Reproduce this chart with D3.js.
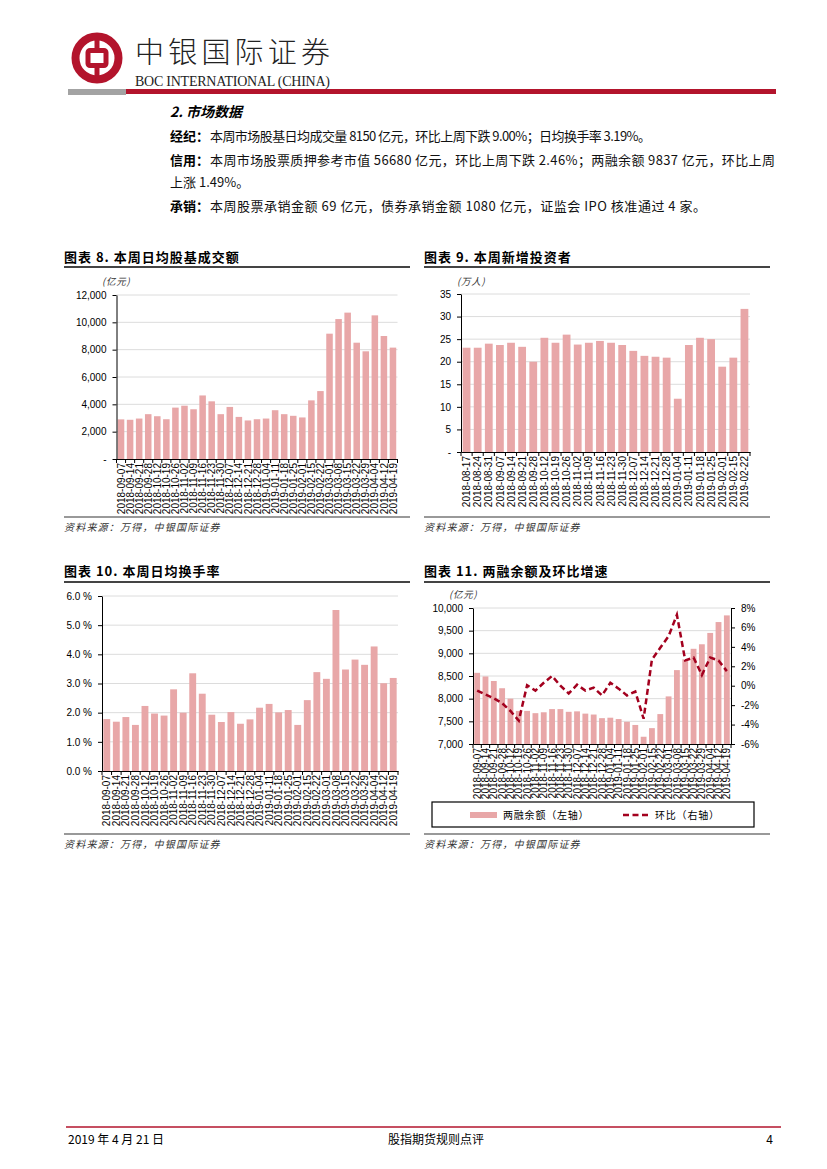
<!DOCTYPE html>
<html>
<head>
<meta charset="utf-8">
<script src="https://cdn.jsdelivr.net/npm/d3@7"></script>
<style>
  body { margin: 0; background: #fff; }
  svg { display: block; }
</style>
</head>
<body>
<script>
var cjk = "'Noto Sans CJK SC', 'Noto Sans', sans-serif";
var latin = "'Liberation Sans', Arial, sans-serif";
var barColor = "#e8a7a8";
var red = "#b3142c";

// weekly dates used by charts 8, 10, 11
var weeksA = ["2018-09-07", "2018-09-14", "2018-09-21", "2018-09-28", "2018-10-12", "2018-10-19",
    "2018-10-26", "2018-11-02", "2018-11-09", "2018-11-16", "2018-11-23", "2018-11-30",
    "2018-12-07", "2018-12-14", "2018-12-21", "2018-12-28", "2019-01-04", "2019-01-11",
    "2019-01-18", "2019-01-25", "2019-02-01", "2019-02-15", "2019-02-22", "2019-03-01",
    "2019-03-08", "2019-03-15", "2019-03-22", "2019-03-29", "2019-04-04", "2019-04-12", "2019-04-19"];

// chart 9 dates
var weeksB = ["2018-08-17", "2018-08-24", "2018-08-31", "2018-09-07", "2018-09-14", "2018-09-21",
    "2018-09-28", "2018-10-12", "2018-10-19", "2018-10-26", "2018-11-02", "2018-11-09",
    "2018-11-16", "2018-11-23", "2018-11-30", "2018-12-07", "2018-12-14", "2018-12-21",
    "2018-12-28", "2019-01-04", "2019-01-11", "2019-01-18", "2019-01-25", "2019-02-01",
    "2019-02-15", "2019-02-22"];

// 图表8 日均股基成交额 (亿元)
var turnoverAmt = [2900, 2870, 2960, 3280, 3130, 2910, 3760, 3900, 3640, 4650, 4220, 3280,
    3810, 3080, 2820, 2910, 2960, 3570, 3280, 3160, 3040, 4290, 4970, 9170, 10240, 10710,
    8510, 7880, 10510, 9000, 8150];

// 图表9 新增投资者 (万人)
var newInvestors = [23.1, 23.1, 24.0, 23.7, 24.2, 23.3, 20.0, 25.3, 24.2, 26.0, 23.8, 24.2,
    24.6, 24.2, 23.7, 22.4, 21.3, 21.1, 20.9, 11.8, 23.7, 25.3, 25.0, 18.9, 20.9, 31.7];

// 图表10 日均换手率 (%)
var turnoverRate = [1.78, 1.69, 1.85, 1.58, 2.23, 1.97, 1.90, 2.80, 2.00, 3.35, 2.65, 1.93,
    1.68, 2.02, 1.62, 1.77, 2.17, 2.30, 2.01, 2.09, 1.58, 2.43, 3.39, 3.16, 5.52, 3.48,
    3.82, 3.64, 4.27, 3.01, 3.19];

// 图表11 两融余额 (亿元) 和环比 (%)
var marginBal = [8570, 8490, 8390, 8230, 8000, 7730, 7730, 7680, 7700, 7770, 7770, 7710,
    7720, 7670, 7650, 7570, 7580, 7550, 7490, 7420, 7160, 7350, 7660, 8050, 8630, 8870,
    9100, 9200, 9450, 9690, 9837];
var marginChg = [-0.5, -0.9, -1.3, -1.8, -2.6, -3.6, 0.05, -0.5, 0.3, 1.0, 0.0, -0.8, 0.1,
    -0.5, -0.2, -1.0, 0.3, -0.3, -1.0, -0.6, -3.4, 2.7, 3.9, 5.1, 7.3, 2.6, 2.9, 1.1, 2.9,
    2.6, 1.5];

var svg = d3.select("body").append("svg")
    .attr("width", 827)
    .attr("height", 1169);

// ---- header ----
var logo = svg.append("g").attr("transform", "translate(97,58)");
logo.append("circle").attr("r", 21.5).attr("fill", "none").attr("stroke", red).attr("stroke-width", 8);
logo.append("line").attr("x1", 0).attr("x2", 0).attr("y1", -25).attr("y2", 25)
    .attr("stroke", red).attr("stroke-width", 5);
logo.append("rect").attr("x", -9).attr("y", -7.5).attr("width", 18).attr("height", 15).attr("rx", 2)
    .attr("fill", "#fff").attr("stroke", red).attr("stroke-width", 5);

svg.append("text").attr("x", 135).attr("y", 63)
    .attr("font-family", cjk).attr("font-weight", 300).attr("font-size", 29)
    .attr("textLength", 195).attr("fill", "#222")
    .text("中银国际证券");
svg.append("text").attr("x", 135).attr("y", 86)
    .attr("font-family", "'Liberation Serif', 'Times New Roman', serif").attr("font-size", 14)
    .attr("textLength", 195).attr("fill", "#222")
    .text("BOC INTERNATIONAL (CHINA)");
svg.append("rect").attr("x", 68).attr("y", 89).attr("width", 58).attr("height", 6).attr("fill", "#a3a3a3");
svg.append("rect").attr("x", 126).attr("y", 89).attr("width", 650).attr("height", 5).attr("fill", red);

// ---- text block ----
svg.append("text").attr("x", 170).attr("y", 117)
    .attr("font-family", cjk).attr("font-weight", 700).attr("font-style", "italic").attr("font-size", 14)
    .text("2. 市场数据");

var paras = [
    {y: 141, label: "经纪：", text: "本周市场股基日均成交量 8150 亿元，环比上周下跌 9.00%；日均换手率 3.19%。", len: 441},
    {y: 165, label: "信用：", text: "本周市场股票质押参考市值 56680 亿元，环比上周下跌 2.46%；两融余额 9837 亿元，环比上周", len: 565},
    {y: 187, label: "", text: "上涨 1.49%。", len: 0},
    {y: 211, label: "承销：", text: "本周股票承销金额 69 亿元，债券承销金额 1080 亿元，证监会 IPO 核准通过 4 家。", len: 496}
];
paras.forEach(function (p) {
    if (p.label) {
        svg.append("text").attr("x", 170).attr("y", p.y)
            .attr("font-family", cjk).attr("font-weight", 700).attr("font-size", 13)
            .text(p.label);
    }
    var t = svg.append("text").attr("x", p.label ? 210 : 170).attr("y", p.y)
        .attr("font-family", cjk).attr("font-size", 13).attr("fill", "#111")
        .text(p.text);
    if (p.len) t.attr("textLength", p.len).attr("lengthAdjust", "spacing");
});

// ---- chart frame: title, rules, source ----
function frame(x0, x1, titleY, lineY, srcLineY, title) {
    svg.append("text").attr("x", x0).attr("y", titleY)
        .attr("font-family", cjk).attr("font-weight", 700).attr("font-size", 13)
        .attr("letter-spacing", 1).text(title);
    svg.append("line").attr("x1", x0).attr("x2", x1).attr("y1", lineY).attr("y2", lineY)
        .attr("stroke", "#444").attr("stroke-width", 2);
    svg.append("line").attr("x1", x0).attr("x2", x1).attr("y1", srcLineY).attr("y2", srcLineY)
        .attr("stroke", "#777").attr("stroke-width", 1.5);
    svg.append("text").attr("x", x0).attr("y", srcLineY + 14)
        .attr("font-family", cjk).attr("font-style", "italic").attr("font-size", 10)
        .attr("fill", "#333").attr("letter-spacing", 1.2).text("资料来源：万得，中银国际证券");
}

function unit(x, y, t) {
    svg.append("text").attr("x", x).attr("y", y)
        .attr("font-family", cjk).attr("font-style", "italic").attr("font-size", 9.5)
        .attr("fill", "#333").attr("letter-spacing", 0.8).text(t);
}

// ---- bar panel ----
function barPanel(cfg) {
    var g = svg.append("g");
    var x = d3.scaleBand().domain(cfg.cats).range([cfg.left, cfg.right])
        .paddingInner(cfg.pad).paddingOuter(cfg.pad / 2);
    var y = d3.scaleLinear().domain(cfg.domain).range([cfg.bottom, cfg.top]);

    g.append("g").selectAll("line")
        .data(cfg.ticks.filter(function (t) { return t !== cfg.domain[0]; }))
        .join("line")
        .attr("x1", cfg.left).attr("x2", cfg.right)
        .attr("y1", function (d) { return y(d); }).attr("y2", function (d) { return y(d); })
        .attr("stroke", "#dcdcdc").attr("stroke-width", 1);

    g.append("g").selectAll("rect")
        .data(cfg.values)
        .join("rect")
        .attr("x", function (d, i) { return x(cfg.cats[i]); })
        .attr("width", x.bandwidth())
        .attr("y", function (d) { return y(d); })
        .attr("height", function (d) { return y(cfg.domain[0]) - y(d); })
        .attr("fill", barColor);

    var ya = g.append("g").attr("transform", "translate(" + cfg.left + ",0)")
        .call(d3.axisLeft(y).tickValues(cfg.ticks).tickFormat(cfg.fmt)
            .tickSize(4).tickPadding(6).tickSizeOuter(0));
    ya.select(".domain").attr("stroke", "#000");
    ya.selectAll(".tick line").attr("stroke", "#000");
    ya.selectAll("text").attr("font-family", latin).attr("font-size", 10).attr("fill", "#000");

    var xa = g.append("g").attr("transform", "translate(0," + cfg.bottom + ")")
        .call(d3.axisBottom(x).tickSize(0).tickPadding(0).tickSizeOuter(0));
    xa.select(".domain").attr("stroke", "#000");
    xa.selectAll("text")
        .attr("transform", "rotate(-90)")
        .attr("text-anchor", "end")
        .attr("x", -4).attr("y", 0).attr("dy", "0.36em")
        .attr("font-family", latin).attr("font-size", 10).attr("fill", "#000");
    var step = x.step();
    xa.append("g").selectAll("line")
        .data(d3.range(cfg.cats.length + 1))
        .join("line")
        .attr("x1", function (i) { return cfg.left + i * step; })
        .attr("x2", function (i) { return cfg.left + i * step; })
        .attr("y1", 0).attr("y2", 4)
        .attr("stroke", "#000");
    return {x: x, y: y, g: g};
}

// 图表 8
frame(64, 410, 262, 267, 517, "图表 8. 本周日均股基成交额");
unit(102, 285, "(亿元)");
barPanel({
    cats: weeksA, values: turnoverAmt, left: 116.5, right: 397.5, top: 295, bottom: 459,
    domain: [0, 12000], ticks: d3.range(0, 12001, 2000), pad: 0.28,
    fmt: function (d) { return d === 0 ? "-" : d3.format(",")(d); }
});

// 图表 9
frame(424, 770, 262, 267, 517, "图表 9. 本周新增投资者");
unit(457, 285, "(万人)");
barPanel({
    cats: weeksB, values: newInvestors, left: 461, right: 750, top: 294, bottom: 452,
    domain: [0, 35], ticks: d3.range(0, 36, 5), pad: 0.3,
    fmt: function (d) { return d === 0 ? "-" : d; }
});

// 图表 10
frame(64, 410, 576, 582, 834, "图表 10. 本周日均换手率");
barPanel({
    cats: weeksA, values: turnoverRate, left: 102, right: 398, top: 596, bottom: 771,
    domain: [0, 6], ticks: d3.range(0, 7, 1), pad: 0.28,
    fmt: function (d) { return d.toFixed(1) + " %"; }
});

// 图表 11
frame(424, 770, 576, 582, 834, "图表 11. 两融余额及环比增速");
unit(449, 598, "(亿元)");
var p11 = barPanel({
    cats: weeksA, values: marginBal, left: 473, right: 731, top: 608, bottom: 744,
    domain: [7000, 10000], ticks: d3.range(7000, 10001, 500), pad: 0.3,
    fmt: d3.format(",")
});
var yR = d3.scaleLinear().domain([-6, 8]).range([744, 608]);
var ra = svg.append("g").attr("transform", "translate(731,0)")
    .call(d3.axisRight(yR).tickValues(d3.range(-6, 9, 2))
        .tickFormat(function (d) { return d + "%"; })
        .tickSize(4).tickPadding(6).tickSizeOuter(0));
ra.select(".domain").attr("stroke", "#000");
ra.selectAll(".tick line").attr("stroke", "#000");
ra.selectAll("text").attr("font-family", latin).attr("font-size", 10).attr("fill", "#000");

var line = d3.line()
    .x(function (d, i) { return p11.x(weeksA[i]) + p11.x.bandwidth() / 2; })
    .y(function (d) { return yR(d); });
svg.append("path").datum(marginChg)
    .attr("d", line)
    .attr("fill", "none")
    .attr("stroke", "#a3001e")
    .attr("stroke-width", 2.5)
    .attr("stroke-dasharray", "6,3.5");

// legend
svg.append("rect").attr("x", 432).attr("y", 802).attr("width", 322).attr("height", 25)
    .attr("fill", "none").attr("stroke", "#000").attr("stroke-width", 1.2);
svg.append("rect").attr("x", 470).attr("y", 812).attr("width", 27).attr("height", 6).attr("fill", barColor);
svg.append("text").attr("x", 503).attr("y", 819)
    .attr("font-family", cjk).attr("font-size", 10).attr("letter-spacing", 0.8)
    .text("两融余额（左轴）");
svg.append("line").attr("x1", 623).attr("x2", 649).attr("y1", 815).attr("y2", 815)
    .attr("stroke", "#a3001e").attr("stroke-width", 2.5).attr("stroke-dasharray", "6,3.5");
svg.append("text").attr("x", 655).attr("y", 819)
    .attr("font-family", cjk).attr("font-size", 10).attr("letter-spacing", 0.8)
    .text("环比（右轴）");

// ---- footer ----
svg.append("line").attr("x1", 66).attr("x2", 781).attr("y1", 1127).attr("y2", 1127)
    .attr("stroke", red).attr("stroke-width", 1.5);
svg.append("text").attr("x", 68).attr("y", 1144)
    .attr("font-family", cjk).attr("font-size", 12).text("2019 年 4 月 21 日");
svg.append("text").attr("x", 436).attr("y", 1144).attr("text-anchor", "middle")
    .attr("font-family", cjk).attr("font-size", 12).text("股指期货规则点评");
svg.append("text").attr("x", 773).attr("y", 1144).attr("text-anchor", "end")
    .attr("font-family", cjk).attr("font-size", 12).text("4");
</script>
</body>
</html>
